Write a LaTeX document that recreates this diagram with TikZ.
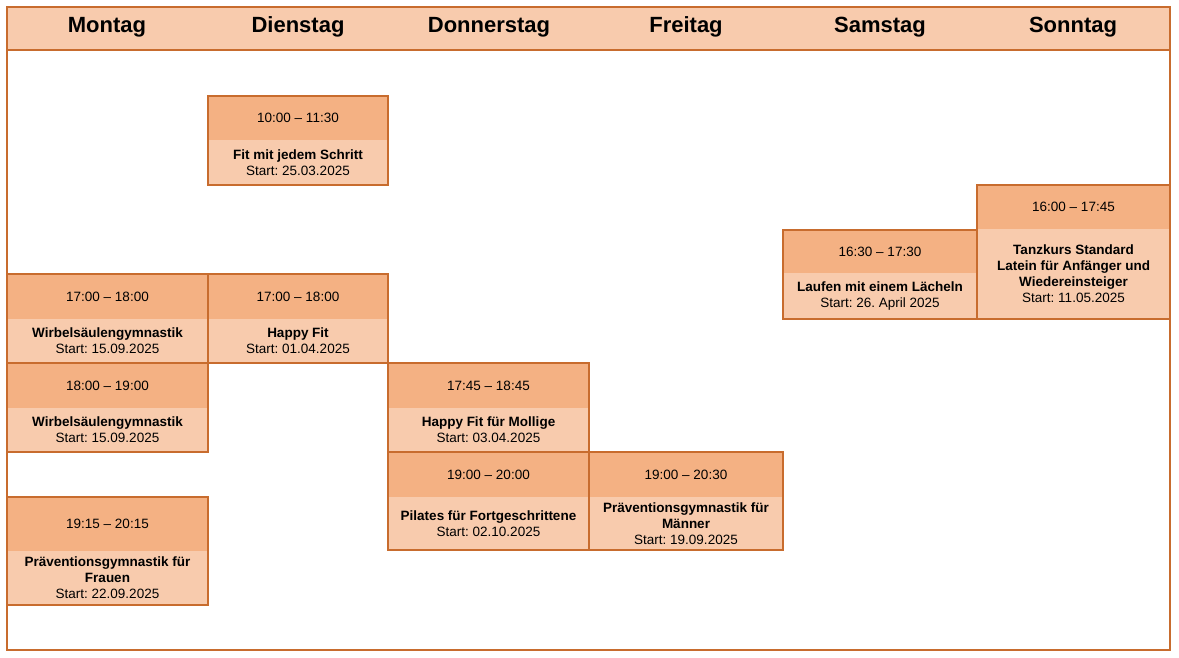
\documentclass[tikz,border=0pt]{standalone}
\usepackage{fontspec}
\setmainfont{Liberation Sans}
\frenchspacing
\definecolor{rim}{RGB}{200,108,46}
\definecolor{peach}{RGB}{248,203,173}
\definecolor{apricot}{RGB}{244,177,131}
\newcommand\br{\\\bfseries}
\tikzset{
  rimline/.style={draw=rim, line width=2pt},
  dayhead/.style={font=\fontsize{22}{26}\selectfont\bfseries, anchor=base},
  timetext/.style={font=\fontsize{13.5}{16}\selectfont, anchor=center},
  bodytext/.style={font=\fontsize{13.5}{16}\selectfont, align=center, anchor=center, inner sep=0pt},
}
% #1 name, #2 x1, #3 x2, #4 ytop, #5 ydiv, #6 ybot, #7 time, #8 title, #9 start
\newcommand\kurs[9]{%
  \fill[apricot] (#2,#4) rectangle (#3,#5);
  \fill[peach] (#2,#5) rectangle (#3,#6);
  \draw[rimline] (#2,#4) rectangle (#3,#6);
  \node[timetext] (#1t) at ({(#2+#3)/2},{(#4+#5)/2}) {#7};
  \node[bodytext] (#1b) at ({(#2+#3)/2},{(#5+#6)/2}) {\bfseries #8\\\mdseries #9};
}
\begin{document}
\begin{tikzpicture}[x=1pt,y=-1pt]
\useasboundingbox (0,0) rectangle (1179,658);
\fill[white] (0,0) rectangle (1179,658);
% header band
\fill[peach] (7,7) rectangle (1170,50);
\draw[rimline] (7,7) rectangle (1170,650);
\draw[rimline] (7,50) -- (1170,50);
\node[dayhead] (mo) at (107,33) {Montag};
\node[dayhead] (di) at (298,33) {Dienstag};
\node[dayhead] (do) at (489,33) {Donnerstag};
\node[dayhead] (fr) at (686,33) {Freitag};
\node[dayhead] (sa) at (880,33) {Samstag};
\node[dayhead] (so) at (1073,33) {Sonntag};
% courses
\kurs{a}{208}{388}{96}{140}{185}{10:00 – 11:30}{Fit mit jedem Schritt}{Start: 25.03.2025}
\kurs{b}{7}{208}{274}{319}{363}{17:00 – 18:00}{Wirbelsäulengymnastik}{Start: 15.09.2025}
\kurs{c}{208}{388}{274}{319}{363}{17:00 – 18:00}{Happy Fit}{Start: 01.04.2025}
\kurs{d}{7}{208}{363}{408}{452}{18:00 – 19:00}{Wirbelsäulengymnastik}{Start: 15.09.2025}
\kurs{e}{7}{208}{497}{551}{605}{19:15 – 20:15}{Präventionsgymnastik für\br Frauen}{Start: 22.09.2025}
\kurs{f}{388}{589}{363}{408}{452}{17:45 – 18:45}{Happy Fit für Mollige}{Start: 03.04.2025}
\kurs{g}{388}{589}{452}{497}{550}{19:00 – 20:00}{Pilates für Fortgeschrittene}{Start: 02.10.2025}
\kurs{h}{589}{783}{452}{497}{550}{19:00 – 20:30}{Präventionsgymnastik für\br Männer}{Start: 19.09.2025}
\kurs{i}{783}{977}{230}{273}{319}{16:30 – 17:30}{Laufen mit einem Lächeln}{Start: 26. April 2025}
\kurs{j}{977}{1170}{185}{229}{319}{16:00 – 17:45}{Tanzkurs Standard\br Latein für Anfänger und\br Wiedereinsteiger}{Start: 11.05.2025}
\end{tikzpicture}
\end{document}
